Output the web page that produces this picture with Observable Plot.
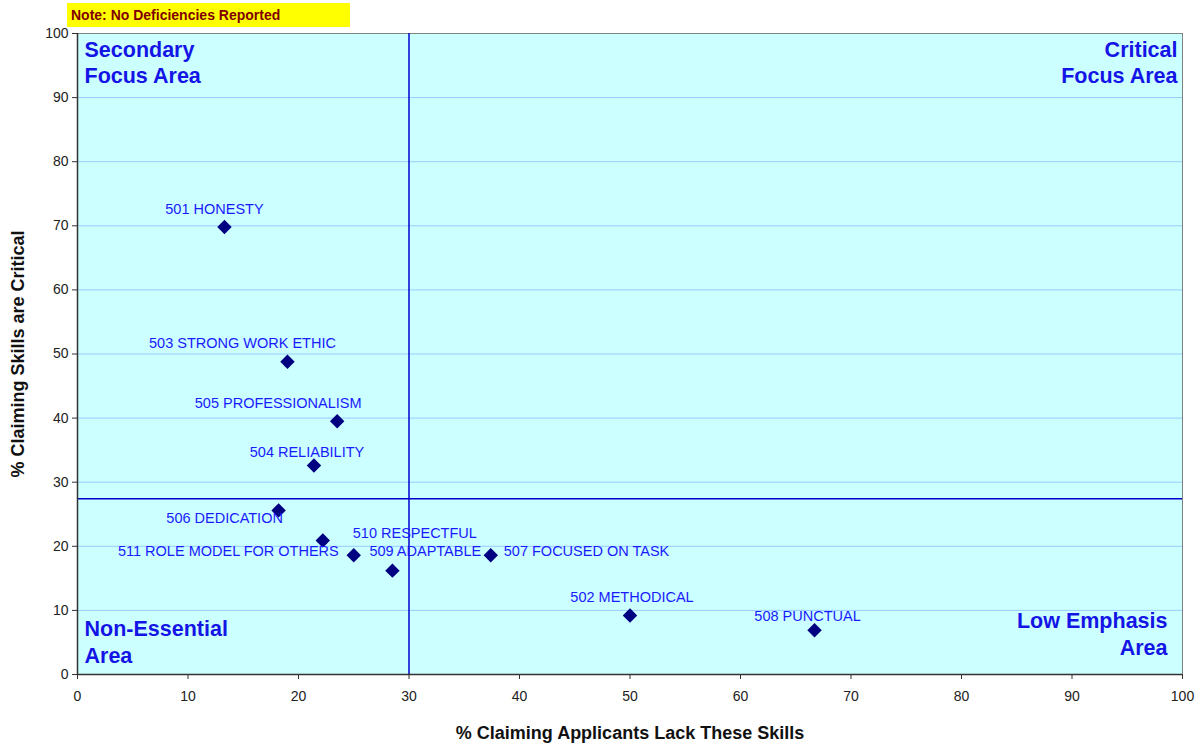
<!DOCTYPE html>
<html>
<head>
<meta charset="utf-8">
<script src="https://cdn.jsdelivr.net/npm/d3@7"></script>
<script src="https://cdn.jsdelivr.net/npm/@observablehq/plot@0.6"></script>
<style>
  body { margin: 0; background: #fff; font-family: "Liberation Sans", Arial, sans-serif; }
  #wrap { position: relative; width: 1202px; height: 746px; }
  #note { position: absolute; left: 67px; top: 3px; width: 283px; height: 24px; background: #FFFF00;
          color: #800000; font-weight: bold; font-size: 14px; line-height: 24px; padding-left: 4px; box-sizing: border-box; }
</style>
</head>
<body>
<div id="wrap"><div id="note">Note: No Deficiencies Reported</div></div>
<script>
// Data
const skills = ["501 HONESTY", "503 STRONG WORK ETHIC", "505 PROFESSIONALISM", "504 RELIABILITY",
  "506 DEDICATION", "510 RESPECTFUL", "511 ROLE MODEL FOR OTHERS", "509 ADAPTABLE",
  "507 FOCUSED ON TASK", "502 METHODICAL", "508 PUNCTUAL"];
const lackPct = [13.3, 19.0, 23.5, 21.4, 18.2, 22.2, 25.0, 28.5, 37.4, 50.0, 66.7];
const criticalPct = [69.8, 48.8, 39.5, 32.6, 25.6, 20.9, 18.6, 16.2, 18.6, 9.2, 6.9];
const xThreshold = 30;
const yThreshold = 27.4;
const xTicks = [0, 10, 20, 30, 40, 50, 60, 70, 80, 90, 100];
const yTicks = [0, 10, 20, 30, 40, 50, 60, 70, 80, 90, 100];
const xTitle = "% Claiming Applicants Lack These Skills";
const yTitle = "% Claiming Skills are Critical";
const quadrants = [
  {text: "Secondary\nFocus Area", anchor: "top-left"},
  {text: "Critical\nFocus Area", anchor: "top-right"},
  {text: "Non-Essential\nArea", anchor: "bottom-left"},
  {text: "Low Emphasis\nArea", anchor: "bottom-right"}
];

// Label placement (pixel offsets from the marker)
const labelLayout = {
  "501 HONESTY": {dx: -10, dy: -18, a: "middle"},
  "503 STRONG WORK ETHIC": {dx: -45, dy: -18, a: "middle"},
  "505 PROFESSIONALISM": {dx: -59, dy: -18, a: "middle"},
  "504 RELIABILITY": {dx: -7, dy: -13, a: "middle"},
  "506 DEDICATION": {dx: -54, dy: 8, a: "middle"},
  "510 RESPECTFUL": {dx: 92, dy: -7, a: "middle"},
  "511 ROLE MODEL FOR OTHERS": {dx: -15, dy: -4, a: "end"},
  "509 ADAPTABLE": {dx: -23, dy: -19, a: "start"},
  "507 FOCUSED ON TASK": {dx: 13, dy: -4, a: "start"},
  "502 METHODICAL": {dx: 2, dy: -18, a: "middle"},
  "508 PUNCTUAL": {dx: -7, dy: -14, a: "middle"}
};

const quadOffsets = {
  "top-left": {dx: 7, dy: 4},
  "top-right": {dx: -5, dy: 4},
  "bottom-left": {dx: 7, dy: -12},
  "bottom-right": {dx: -15, dy: -20}
};

const rows = skills.map((s, i) => ({label: s, x: lackPct[i], y: criticalPct[i]}));

const labelMarks = rows.map(r => Plot.text([r], {
  x: "x", y: "y", text: "label", textAnchor: labelLayout[r.label].a,
  dx: labelLayout[r.label].dx, dy: labelLayout[r.label].dy,
  fill: "#1A1AFF", fontSize: 14.5
}));

const quadMarks = quadrants.map(q => Plot.text([q.text], {
  frameAnchor: q.anchor,
  dx: quadOffsets[q.anchor].dx,
  dy: quadOffsets[q.anchor].dy,
  fill: "#1414E6", fontSize: 21.5, fontWeight: "bold", lineHeight: 1.25
}));

const chart = Plot.plot({
  width: 1202,
  height: 746,
  marginLeft: 77,
  marginRight: 20,
  marginTop: 33,
  marginBottom: 72,
  style: {fontFamily: "Liberation Sans, Arial, sans-serif", fontSize: "14px", background: "transparent", overflow: "visible"},
  x: {domain: [0, 100]},
  y: {domain: [0, 100]},
  marks: [
    Plot.frame({fill: "#CCFFFF", stroke: null}),
    Plot.gridY(yTicks.slice(1, -1), {stroke: "#99CCFF", strokeOpacity: 1}),
    Plot.frame({stroke: "#808080"}),
    Plot.ruleX([xThreshold], {stroke: "#0000CC", strokeWidth: 1.5}),
    Plot.ruleY([yThreshold], {x1: 0, x2: 100, stroke: "#0000CC", strokeWidth: 1.5}),
    Plot.ruleY([0], {stroke: "#333", strokeWidth: 1.5}),
    Plot.ruleX([0], {stroke: "#333", strokeWidth: 1.5}),
    Plot.axisX(xTicks, {tickSize: 5, tickPadding: 12, label: null, fontSize: 14, stroke: "#333", fill: "#222"}),
    Plot.axisY(yTicks, {tickSize: 5, tickPadding: 4, label: null, fontSize: 14, stroke: "#333", fill: "#222"}),
    Plot.text([xTitle], {frameAnchor: "bottom", dy: 64, fontWeight: "bold", fontSize: 18, fill: "#111"}),
    Plot.text([yTitle], {frameAnchor: "left", textAnchor: "middle", dx: -59, rotate: -90, fontWeight: "bold", fontSize: 18, fill: "#111"}),
    ...quadMarks,
    Plot.dot(rows, {x: "x", y: "y", symbol: "diamond2", r: 6.5, fill: "#000080", stroke: "none"}),
    ...labelMarks
  ]
});
document.getElementById("wrap").appendChild(chart);
</script>
</body>
</html>
